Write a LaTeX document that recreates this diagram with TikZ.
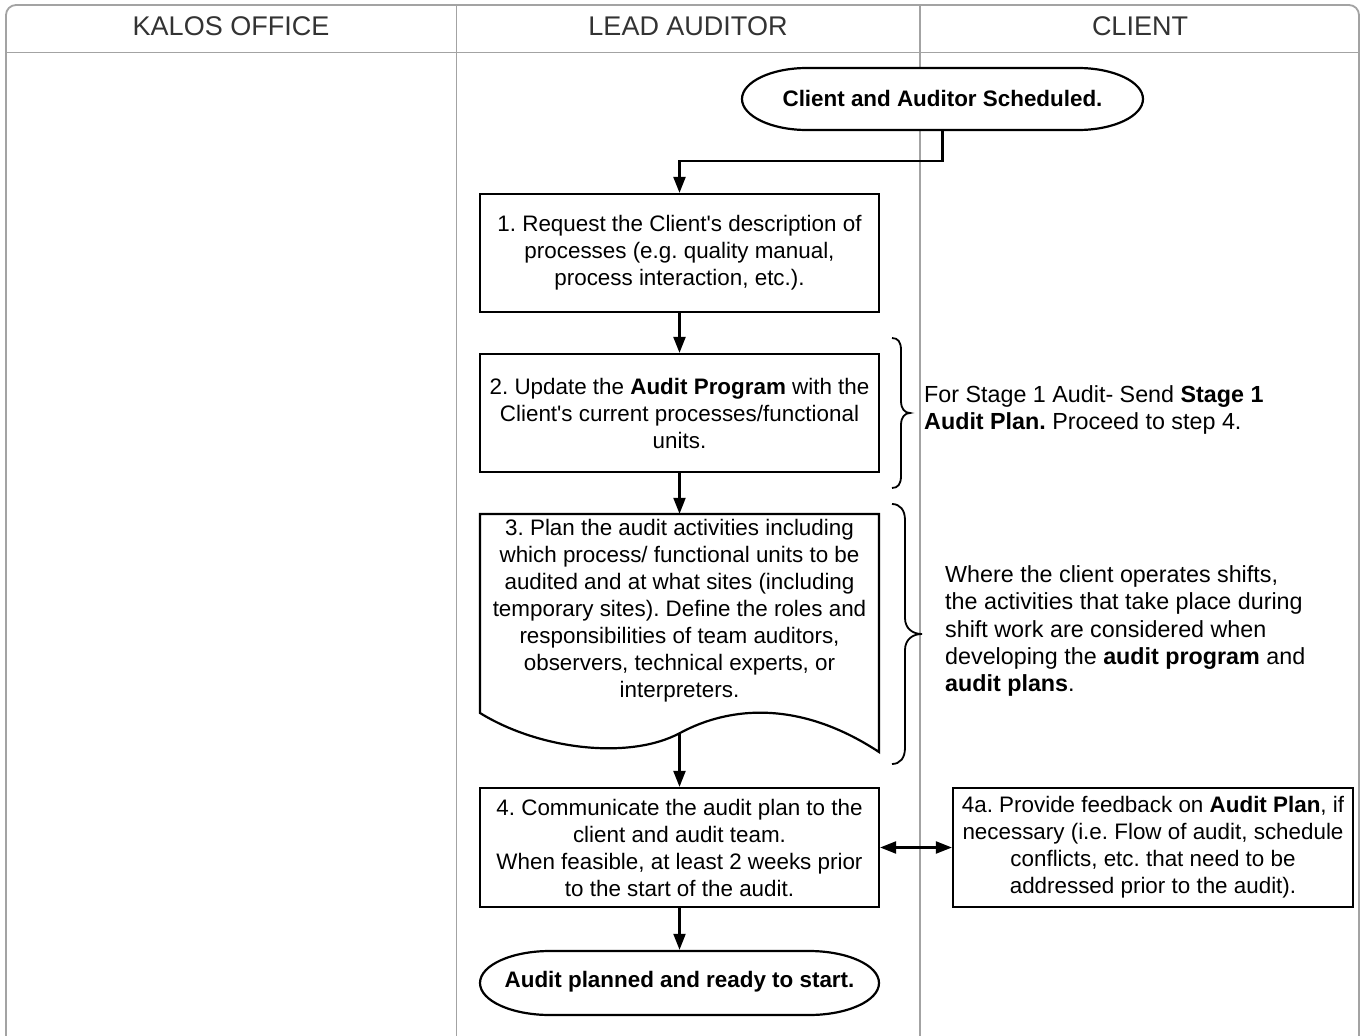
\documentclass[tikz,border=0pt]{standalone}
\usepackage{fontspec}
\setmainfont{Liberation Sans}[Ligatures=TeXOff]
\usetikzlibrary{arrows.meta}
\definecolor{lanegray}{HTML}{A3A3A3}
\definecolor{hdrtext}{HTML}{333333}
\begin{document}
\frenchspacing
\begin{tikzpicture}[x=1pt,y=-1pt,
 lane/.style={draw=lanegray,line width=1.8pt},
 hdr/.style={font=\fontsize{27}{30}\selectfont,text=hdrtext,inner sep=0pt},
 txt/.style={font=\fontsize{22.4}{27}\selectfont,align=center,inner sep=0pt},
 note/.style={font=\fontsize{23.3}{27.2}\selectfont,align=left,inner sep=0pt,anchor=west},
 box/.style={txt,draw,fill=white,line width=2.2pt,minimum width=399pt,minimum height=118pt},
 outline/.style={draw,fill=white,line width=2.2pt},
 flow/.style={line width=2.2pt,-{Triangle[length=16pt,width=12pt]}},
 both/.style={line width=2.2pt,{Triangle[length=16pt,width=12pt]}-{Triangle[length=16pt,width=12pt]}},
]
\useasboundingbox (0,0) rectangle (1361,1036);
\fill[white] (0,0) rectangle (1361,1036);
% swimlanes
\draw[lane,rounded corners=10pt] (6,1060) -- (6,5) -- (1359,5) -- (1359,1060);
\draw[lane] (6,52.5) -- (1359,52.5);
\draw[lane] (456.5,5) -- (456.5,1060);
\draw[lane] (920,5) -- (920,1060);
\node[hdr] (h1) at (231,26) {KALOS OFFICE};
\node[hdr] (h2) at (688,26) {LEAD AUDITOR};
\node[hdr] (h3) at (1140,26) {CLIENT};

% start terminator
\draw[outline] (807,68) .. controls (771,68) and (742,82) .. (742,99)
  .. controls (742,116) and (771,130) .. (807,130) -- (1078,130)
  .. controls (1114,130) and (1143,116) .. (1143,99)
  .. controls (1143,82) and (1114,68) .. (1078,68) -- cycle;
\node[txt,minimum width=401pt,minimum height=62pt] (start) at (942.5,98) {\textbf{Client and Auditor Scheduled.}};

% box 1
\node[box] (b1) at (679.5,253) {1. Request the Client's description of\\processes (e.g. quality manual,\\process interaction, etc.).};
% box 2
\node[box] (b2) at (679.5,413) {2. Update the \textbf{Audit Program} with the\\Client's current processes/functional\\units.};
% box 3 document
\draw[outline] (480,514) -- (879,514) -- (879,752)
  .. controls (800,700) and (730,706) .. (680,733)
  .. controls (630,760) and (540,750) .. (480,713) -- cycle;
\node[txt,minimum width=399pt,minimum height=194pt] (b3) at (679.5,611) {3. Plan the audit activities including\\which process/ functional units to be\\audited and at what sites (including\\temporary sites). Define the roles and\\responsibilities of team auditors,\\observers, technical experts, or\\interpreters.};
\coordinate (b3out) at (679.5,733);
% box 4
\node[box,minimum height=119pt] (b4) at (679.5,847.5) {4. Communicate the audit plan to the\\client and audit team.\\When feasible, at least 2 weeks prior\\to the start of the audit.};
% box 4a
\node[box,minimum width=400pt,minimum height=119pt] (b4a) at (1153,847.5) {4a. Provide feedback on \textbf{Audit Plan}, if\\necessary (i.e. Flow of audit, schedule\\conflicts, etc. that need to be\\addressed prior to the audit).};
% end terminator
\draw[outline] (550,951) .. controls (512,951) and (480,965) .. (480,983)
  .. controls (480,1001) and (512,1015) .. (550,1015) -- (809,1015)
  .. controls (847,1015) and (879,1001) .. (879,983)
  .. controls (879,965) and (847,951) .. (809,951) -- cycle;
\node[txt,minimum width=399pt,minimum height=64pt] (end) at (679.5,982) {\textbf{Audit planned and ready to start.}};

% braces
\draw[line width=1.8pt] (892,338) .. controls (898,338) and (901,342) .. (901,350) -- (901,401)
  .. controls (901,409) and (905,413) .. (910,413)
  .. controls (905,413) and (901,417) .. (901,425) -- (901,476)
  .. controls (901,484) and (898,488) .. (892,488);
\draw[line width=1.8pt] (892,504) .. controls (900,504) and (905,510) .. (905,520) -- (905,618)
  .. controls (905,628) and (912,634) .. (922,634)
  .. controls (912,634) and (905,640) .. (905,650) -- (905,748)
  .. controls (905,758) and (900,764) .. (892,764);
\node[note] (n1) at (924,410) {For Stage 1 Audit- Send \textbf{Stage 1}\\\textbf{Audit Plan.} Proceed to step 4.};
\node[note] (n2) at (945,631) {Where the client operates shifts,\\the activities that take place during\\shift work are considered when\\developing the \textbf{audit program} and\\\textbf{audit plans}.};

% connectors
\draw[flow] (start.south) -- ++(0,32) -| (b1.north);
\draw[flow] (b1) -- (b2);
\draw[flow] (b2.south) -- (b3.north);
\draw[flow] (b3out) -- (b4.north);
\draw[both] (b4) -- (b4a);
\draw[flow] (b4) -- (end);
\end{tikzpicture}
\end{document}
